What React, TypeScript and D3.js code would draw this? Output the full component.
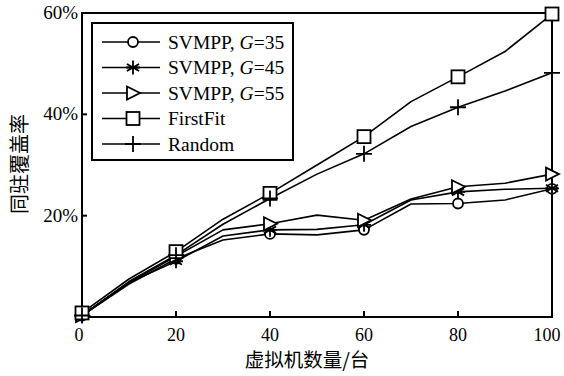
import React from "react";
import * as d3 from "d3";

// Number of virtual machines (x) and co-residency coverage (%) per method
const vmCounts = [0, 10, 20, 30, 40, 50, 60, 70, 80, 90, 100];
const svmppG35 = [0.3, 6.5, 11.5, 15.2, 16.4, 16.2, 17.2, 22.3, 22.4, 23.1, 25.3];
const svmppG45 = [0.3, 6.8, 11.0, 16.0, 17.2, 17.3, 18.2, 23.1, 24.7, 25.2, 25.4];
const svmppG55 = [0.3, 6.8, 12.0, 17.2, 18.4, 20.1, 19.1, 23.3, 25.7, 26.4, 28.2];
const firstFit = [0.8, 7.5, 12.9, 19.3, 24.4, 30.0, 35.6, 42.5, 47.4, 52.4, 59.8];
const randomFit = [0.3, 7.0, 12.2, 18.3, 23.4, 28.2, 32.2, 37.6, 41.4, 44.6, 48.2];

const xTicks = [0, 20, 40, 60, 80, 100];
const yTicks = [20, 40, 60];
const xTitle = "虚拟机数量/台";
const yTitle = "同驻覆盖率";

type MarkerKind = "circle" | "asterisk" | "triangle" | "square" | "plus";
interface Series {
  name: string;
  g?: string;
  values: number[];
  marker: MarkerKind;
}

const seriesList: Series[] = [
  { name: "SVMPP, ", g: "35", values: svmppG35, marker: "circle" },
  { name: "SVMPP, ", g: "45", values: svmppG45, marker: "asterisk" },
  { name: "SVMPP, ", g: "55", values: svmppG55, marker: "triangle" },
  { name: "FirstFit", values: firstFit, marker: "square" },
  { name: "Random", values: randomFit, marker: "plus" },
];

const W = 564;
const H = 376;
const left = 82;
const right = 552;
const top = 13;
const bottom = 317;

const serif = "'Liberation Serif', 'Times New Roman', serif";
const cjk = "'Noto Sans CJK SC', sans-serif";

function Marker({ kind, x, y }: { kind: MarkerKind; x: number; y: number }) {
  const common = { fill: "white", stroke: "black", strokeWidth: 1.8 };
  switch (kind) {
    case "circle":
      return <circle cx={x} cy={y} r={5} {...common} />;
    case "square":
      return <rect x={x - 6.5} y={y - 6.5} width={13} height={13} {...common} />;
    case "triangle":
      return (
        <path
          d={`M${x - 6},${y - 6.5}L${x + 7},${y}L${x - 6},${y + 6.5}Z`}
          {...common}
        />
      );
    case "asterisk": {
      const r = 7;
      const d = [0, 60, 120].map((a) => {
        const rad = (a * Math.PI) / 180;
        const dx = Math.sin(rad) * r;
        const dy = Math.cos(rad) * r;
        return `M${x - dx},${y - dy}L${x + dx},${y + dy}`;
      });
      d.push(`M${x - r},${y}L${x + r},${y}`);
      return <path d={d.join("")} fill="none" stroke="black" strokeWidth={1.8} />;
    }
    case "plus":
      return (
        <path
          d={`M${x - 8},${y}L${x + 8},${y}M${x},${y - 8}L${x},${y + 8}`}
          fill="none"
          stroke="black"
          strokeWidth={1.8}
        />
      );
  }
}

export default function App() {
  const x = d3.scaleLinear().domain([0, 100]).range([left, right]);
  const y = d3.scaleLinear().domain([0, 60]).range([bottom, top]);

  const line = d3
    .line<number>()
    .x((_, i) => x(vmCounts[i]))
    .y((v) => y(v));

  const legendX = 92;
  const legendY = 23;
  const legendW = 201;
  const legendH = 137;

  return (
    <svg
      width={W}
      height={H}
      style={{ position: "absolute", left: 0, top: 0, background: "white" }}
    >
      <rect x={0} y={0} width={W} height={H} fill="white" />

      {/* data lines */}
      {seriesList.map((s, si) => (
        <path
          key={`l${si}`}
          d={line(s.values) || ""}
          fill="none"
          stroke="black"
          strokeWidth={1.6}
          strokeLinejoin="round"
        />
      ))}

      {/* frame */}
      <rect
        x={left}
        y={top}
        width={right - left}
        height={bottom - top}
        fill="none"
        stroke="black"
        strokeWidth={2}
      />

      {/* x ticks */}
      {xTicks.map((t) => (
        <g key={`xt${t}`}>
          {t > 0 && t < 100 && (
            <line x1={x(t)} x2={x(t)} y1={bottom} y2={bottom - 6} stroke="black" strokeWidth={2} />
          )}
          <text
            x={x(t) + (t === 0 ? -3 : t === 100 ? -5 : 0)}
            y={341}
            textAnchor="middle"
            fontFamily={serif}
            fontSize={18}
            fill="black"
          >
            {t}
          </text>
        </g>
      ))}

      {/* y ticks */}
      {yTicks.map((t) => (
        <g key={`yt${t}`}>
          <line x1={left} x2={left + 5} y1={y(t)} y2={y(t)} stroke="black" strokeWidth={2} />
          <text
            x={left - 4}
            y={y(t) + 6}
            textAnchor="end"
            fontFamily={serif}
            fontSize={19}
            fill="black"
          >
            {t}%
          </text>
        </g>
      ))}

      {/* markers */}
      {seriesList.map((s, si) =>
        s.values.map((v, i) =>
          vmCounts[i] % 20 === 0 ? (
            <Marker key={`m${si}-${i}`} kind={s.marker} x={x(vmCounts[i])} y={y(v)} />
          ) : null
        )
      )}

      {/* legend */}
      <rect
        x={legendX}
        y={legendY}
        width={legendW}
        height={legendH}
        fill="white"
        stroke="black"
        strokeWidth={2}
      />
      {seriesList.map((s, i) => {
        const ry = 42 + i * 25.5;
        return (
          <g key={`lg${i}`}>
            <line x1={102} x2={160} y1={ry} y2={ry} stroke="black" strokeWidth={1.6} />
            <Marker kind={s.marker} x={133} y={ry} />
            <text
              x={168}
              y={ry + 6.5}
              fontFamily={serif}
              fontSize={19.5}
              fill="black"
            >
              {s.name}
              {s.g && (
                <>
                  <tspan fontStyle="italic">G</tspan>={s.g}
                </>
              )}
            </text>
          </g>
        );
      })}

      {/* axis titles */}
      <text
        x={307}
        y={367}
        textAnchor="middle"
        fontFamily={cjk}
        fontSize={19.5}
        fill="black"
      >
        {xTitle}
      </text>
      <text
        transform={`translate(27,164) rotate(-90)`}
        textAnchor="middle"
        fontFamily={cjk}
        fontSize={20}
        fill="black"
      >
        {yTitle}
      </text>
    </svg>
  );
}
